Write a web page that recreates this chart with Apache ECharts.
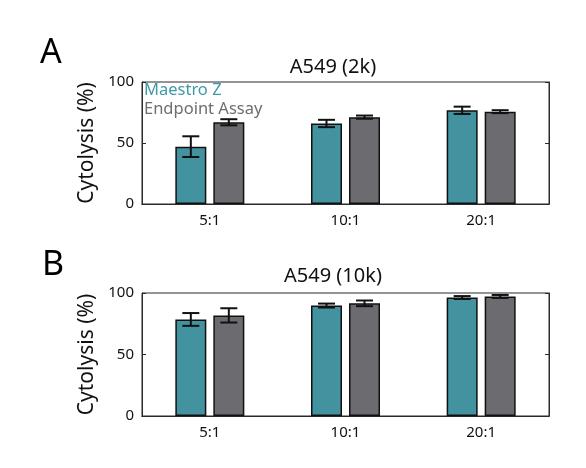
<!DOCTYPE html>
<html>
<head>
<meta charset="utf-8">
<script src="https://cdn.jsdelivr.net/npm/echarts@6/dist/echarts.min.js"></script>
<style>html,body{margin:0;padding:0;background:#fff}#c{width:586px;height:468px}</style>
</head>
<body>
<div id="c"></div>
<script>
var categories = ['5:1', '10:1', '20:1'];
var seriesNames = ['Maestro Z', 'Endpoint Assay'];
// Panel A: A549 (2k)
var maestro2k = [47, 66, 76.8];
var maestro2kErr = [8.5, 3, 3];
var endpoint2k = [67, 71.2, 75.7];
var endpoint2kErr = [2.5, 1.3, 1.2];
// Panel B: A549 (10k)
var maestro10k = [78.5, 89.8, 96.3];
var maestro10kErr = [5.2, 1.6, 1.2];
var endpoint10k = [81.8, 91.6, 97.2];
var endpoint10kErr = [5.8, 2.3, 1.2];
var yTicks = [0, 50, 100];
var titles = ['A549 (2k)', 'A549 (10k)'];
var panelLetters = ['A', 'B'];

var TEAL = '#42939F', GRAY = '#6C6C70', AX = '#2a2a2a';
var FONT = 'Noto Sans';
var BARW = 31, GAPPX = 7;

var chart = echarts.init(document.getElementById('c'), null, {renderer: 'canvas'});

function grids() {
  return [
    {left: 142, top: 82, width: 407, height: 122, show: true, borderColor: AX, borderWidth: 1, backgroundColor: '#fff'},
    {left: 142, top: 293, width: 407, height: 123, show: true, borderColor: AX, borderWidth: 1, backgroundColor: '#fff'}
  ];
}
function xAxes() {
  var arr = [];
  [0, 1].forEach(function (g) {
    arr.push({type: 'category', data: categories, gridIndex: g, position: 'bottom',
      axisLine: {lineStyle: {color: AX, width: 1}},
      axisTick: {inside: true, alignWithLabel: true, length: 4, lineStyle: {color: AX}},
      axisLabel: {color: '#111', fontFamily: FONT, fontSize: 15, margin: 9}});
    arr.push({type: 'category', data: categories, gridIndex: g, position: 'top',
      axisLine: {lineStyle: {color: AX, width: 1}},
      axisTick: {inside: true, alignWithLabel: true, length: 4, lineStyle: {color: AX}},
      axisLabel: {show: false}});
  });
  return arr;
}
function yAxes() {
  var arr = [];
  [0, 1].forEach(function (g) {
    arr.push({type: 'value', gridIndex: g, min: yTicks[0], max: yTicks[yTicks.length - 1], interval: yTicks[1] - yTicks[0],
      position: 'left',
      name: 'Cytolysis (%)', nameLocation: 'middle', nameGap: 41, nameRotate: 90,
      nameTextStyle: {fontFamily: FONT, fontSize: 21, color: '#111'},
      axisLine: {show: true, lineStyle: {color: AX}},
      axisTick: {show: true, inside: true, length: 4, lineStyle: {color: AX}},
      splitLine: {show: false},
      axisLabel: {color: '#111', fontFamily: FONT, fontSize: 15, margin: 8}});
    arr.push({type: 'value', gridIndex: g, min: yTicks[0], max: yTicks[yTicks.length - 1], interval: yTicks[1] - yTicks[0],
      position: 'right',
      axisLine: {show: true, lineStyle: {color: AX}},
      axisTick: {show: true, inside: true, length: 4, lineStyle: {color: AX}},
      splitLine: {show: false},
      axisLabel: {show: false}});
  });
  return arr;
}

function barSeries(name, data, color, g) {
  return {type: 'bar', name: name, data: data, xAxisIndex: g * 2, yAxisIndex: g * 2,
    barWidth: BARW, barGap: (GAPPX / BARW * 100).toFixed(1) + '%',
    itemStyle: {color: color, borderColor: '#111', borderWidth: 1.5},
    emphasis: {disabled: true}, z: 2};
}
function errSeries(means, errs, side, g) {
  var d = means.map(function (m, i) { return [i, m, errs[i]]; });
  return {type: 'custom', xAxisIndex: g * 2, yAxisIndex: g * 2, data: d, z: 5,
    encode: {x: 0, y: 1}, silent: true,
    renderItem: function (params, api) {
      var c = api.value(0), m = api.value(1), e = api.value(2);
      var hi = api.coord([c, m + e]);
      var lo = api.coord([c, m - e]);
      var x = hi[0] + side * (BARW + GAPPX) / 2;
      var cap = 8.5;
      var st = {stroke: '#111', lineWidth: 2, fill: null};
      return {type: 'group', children: [
        {type: 'line', shape: {x1: x, y1: hi[1], x2: x, y2: lo[1]}, style: st},
        {type: 'line', shape: {x1: x - cap, y1: hi[1], x2: x + cap, y2: hi[1]}, style: st},
        {type: 'line', shape: {x1: x - cap, y1: lo[1], x2: x + cap, y2: lo[1]}, style: st}
      ]};
    }};
}

var option = {
  animation: false,
  backgroundColor: '#fff',
  title: [
    {text: titles[0], left: 328, top: 52, textAlign: 'center', textStyle: {fontFamily: FONT, fontSize: 20, fontWeight: 'normal', color: '#111'}},
    {text: titles[1], left: 328, top: 261, textAlign: 'center', textStyle: {fontFamily: FONT, fontSize: 20, fontWeight: 'normal', color: '#111'}},
    {text: panelLetters[0], left: 35, top: 31, textStyle: {fontFamily: FONT, fontSize: 34, fontWeight: 'normal', color: '#000'}},
    {text: panelLetters[1], left: 37, top: 243, textStyle: {fontFamily: FONT, fontSize: 34, fontWeight: 'normal', color: '#000'}}
  ],
  legend: {
    left: 143, top: 81, orient: 'vertical', itemGap: 0, icon: 'none', itemWidth: 0, itemHeight: 0,
    padding: [0, 0, 0, 0], selectedMode: false,
    textStyle: {fontFamily: FONT, fontSize: 16.5, lineHeight: 19, padding: [0, 0, 0, -4]},
    data: [
      {name: seriesNames[0], textStyle: {color: '#3E9BA6'}},
      {name: seriesNames[1], textStyle: {color: '#6E6E6E'}}
    ]
  },
  grid: grids(),
  xAxis: xAxes(),
  yAxis: yAxes(),
  series: [
    barSeries(seriesNames[0], maestro2k, TEAL, 0),
    barSeries(seriesNames[1], endpoint2k, GRAY, 0),
    errSeries(maestro2k, maestro2kErr, -1, 0),
    errSeries(endpoint2k, endpoint2kErr, 1, 0),
    barSeries(seriesNames[0], maestro10k, TEAL, 1),
    barSeries(seriesNames[1], endpoint10k, GRAY, 1),
    errSeries(maestro10k, maestro10kErr, -1, 1),
    errSeries(endpoint10k, endpoint10kErr, 1, 1)
  ]
};
chart.setOption(option);
</script>
</body>
</html>
